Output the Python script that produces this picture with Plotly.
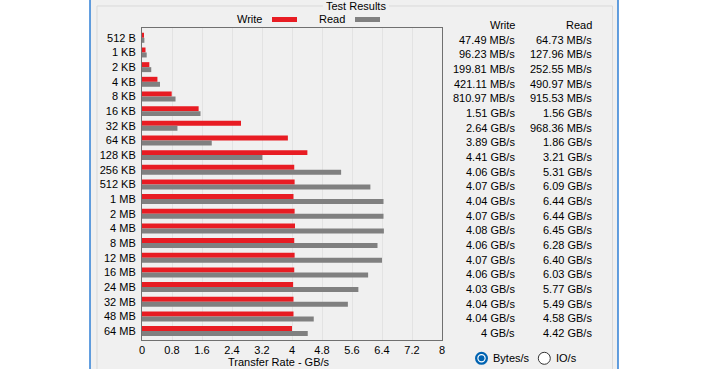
import plotly.graph_objects as go

categories = ["512 B", "1 KB", "2 KB", "4 KB", "8 KB", "16 KB", "32 KB", "64 KB",
              "128 KB", "256 KB", "512 KB", "1 MB", "2 MB", "4 MB", "8 MB", "12 MB",
              "16 MB", "24 MB", "32 MB", "48 MB", "64 MB"]
write_labels = ["47.49 MB/s", "96.23 MB/s", "199.81 MB/s", "421.11 MB/s", "810.97 MB/s",
                "1.51 GB/s", "2.64 GB/s", "3.89 GB/s", "4.41 GB/s", "4.06 GB/s", "4.07 GB/s",
                "4.04 GB/s", "4.07 GB/s", "4.08 GB/s", "4.06 GB/s", "4.07 GB/s", "4.06 GB/s",
                "4.03 GB/s", "4.04 GB/s", "4.04 GB/s", "4 GB/s"]
read_labels = ["64.73 MB/s", "127.96 MB/s", "252.55 MB/s", "490.97 MB/s", "915.53 MB/s",
               "1.56 GB/s", "968.36 MB/s", "1.86 GB/s", "3.21 GB/s", "5.31 GB/s", "6.09 GB/s",
               "6.44 GB/s", "6.44 GB/s", "6.45 GB/s", "6.28 GB/s", "6.40 GB/s", "6.03 GB/s",
               "5.77 GB/s", "5.49 GB/s", "4.58 GB/s", "4.42 GB/s"]
write_gbps = [47.49 / 1024, 96.23 / 1024, 199.81 / 1024, 421.11 / 1024, 810.97 / 1024,
              1.51, 2.64, 3.89, 4.41, 4.06, 4.07, 4.04, 4.07, 4.08, 4.06, 4.07, 4.06,
              4.03, 4.04, 4.04, 4.00]
read_gbps = [64.73 / 1024, 127.96 / 1024, 252.55 / 1024, 490.97 / 1024, 915.53 / 1024,
             1.56, 968.36 / 1024, 1.86, 3.21, 5.31, 6.09, 6.44, 6.44, 6.45, 6.28, 6.40,
             6.03, 5.77, 5.49, 4.58, 4.42]
x_ticks = [0, 0.8, 1.6, 2.4, 3.2, 4, 4.8, 5.6, 6.4, 7.2, 8]
x_tick_text = ["0", "0.8", "1.6", "2.4", "3.2", "4", "4.8", "5.6", "6.4", "7.2", "8"]

W, H = 708, 369
L, T, PW, PH = 142, 28, 300, 312
FONT = "Liberation Sans, Arial, sans-serif"
RED = "#e81c23"
GRAY = "#808080"
PANEL = "#f0f0f0"


def px(x):
    return (x - L) / PW


def py(y):
    return (T + PH - y) / PH


fig = go.Figure()
fig.add_trace(go.Bar(y=categories, x=write_gbps, orientation="h", name="Write",
                     marker=dict(color=RED, line=dict(width=0)), hoverinfo="skip"))
fig.add_trace(go.Bar(y=categories, x=read_gbps, orientation="h", name="Read",
                     marker=dict(color=GRAY, line=dict(width=0)), hoverinfo="skip"))

shapes = []
# gray window panel
shapes.append(dict(type="rect", xref="paper", yref="paper", x0=px(90), x1=px(618),
                   y0=py(-2), y1=py(371), fillcolor=PANEL, line=dict(width=0), layer="below"))
# blue window borders
for bx in (90, 618):
    shapes.append(dict(type="line", xref="paper", yref="paper", x0=px(bx), x1=px(bx),
                       y0=py(-2), y1=py(371), line=dict(color="#2f7fd6", width=1.5)))
# group box lines
gb = "#d9d9d9"
shapes.append(dict(type="line", xref="paper", yref="paper", x0=px(97), x1=px(97),
                   y0=py(6), y1=py(372), line=dict(color=gb, width=1)))
shapes.append(dict(type="line", xref="paper", yref="paper", x0=px(612.5), x1=px(612.5),
                   y0=py(6), y1=py(372), line=dict(color=gb, width=1)))
shapes.append(dict(type="line", xref="paper", yref="paper", x0=px(97), x1=px(323),
                   y0=py(6), y1=py(6), line=dict(color=gb, width=1)))
shapes.append(dict(type="line", xref="paper", yref="paper", x0=px(389), x1=px(612.5),
                   y0=py(6), y1=py(6), line=dict(color=gb, width=1)))
# legend swatches
shapes.append(dict(type="rect", xref="paper", yref="paper", x0=px(272), x1=px(297),
                   y0=py(22), y1=py(17), fillcolor=RED, line=dict(width=0)))
shapes.append(dict(type="rect", xref="paper", yref="paper", x0=px(355), x1=px(380),
                   y0=py(22), y1=py(17), fillcolor=GRAY, line=dict(width=0)))


def circle(cx, cy, r, fill, line_color=None, lw=0):
    return dict(type="circle", xref="paper", yref="paper",
                x0=px(cx - r), x1=px(cx + r), y0=py(cy + r), y1=py(cy - r),
                fillcolor=fill, line=dict(color=line_color or fill, width=lw))


shapes.append(circle(481.5, 358.3, 6.5, "#0063b1"))
shapes.append(circle(481.5, 358.3, 4.2, "white"))
shapes.append(circle(481.5, 358.3, 3.0, "#0063b1"))
shapes.append(circle(544.3, 358.3, 6.0, "white", "#333333", 1))

ann = []


def text(x, y, s, anchor="center", size=11):
    ann.append(dict(xref="paper", yref="paper", x=px(x), y=py(y), text=s, showarrow=False,
                    xanchor=anchor, yanchor="middle", font=dict(family=FONT, size=size, color="black")))


text(356, 6, "Test Results")
text(264, 19, "Write", "right")
text(347, 19, "Read", "right")
text(278.5, 361.5, "Transfer Rate - GB/s")
text(517, 25, "Write", "right")
text(594, 25, "Read", "right")
text(491, 358.3, "Bytes/s", "left")
text(554, 358.3, "IO/s", "left")

for c, wl, rl in zip(categories, write_labels, read_labels):
    for xx, s in ((517, wl), (594, rl)):
        ann.append(dict(xref="paper", yref="y", x=px(xx), y=c, text=s, showarrow=False,
                        xanchor="right", yanchor="middle", yshift=-2,
                        font=dict(family=FONT, size=11, color="black")))

fig.update_layout(
    width=W, height=H,
    margin=dict(l=L, r=W - L - PW, t=T, b=H - T - PH, pad=0),
    paper_bgcolor="white", plot_bgcolor="white",
    barmode="group", bargap=0.32, bargroupgap=0,
    showlegend=False,
    font=dict(family=FONT, size=11, color="black"),
    shapes=shapes, annotations=ann,
    xaxis=dict(range=[0, 8], tickvals=x_ticks, ticktext=x_tick_text, showgrid=True,
               gridcolor="#e3e3e3", gridwidth=1, zeroline=False, showline=True,
               linecolor="#707070", linewidth=1, mirror=True, ticks="", fixedrange=True,
               tickfont=dict(family=FONT, size=11, color="black")),
    yaxis=dict(type="category", categoryorder="array", categoryarray=categories,
               range=[20.61, -0.67], showgrid=False, zeroline=False, showline=True,
               linecolor="#707070", linewidth=1, mirror=True, ticks="", fixedrange=True,
               ticklabelstandoff=3, tickfont=dict(family=FONT, size=11, color="black")),
)

fig.write_html("out.html", config={"displayModeBar": False},
               post_script="document.body.style.margin='0';document.body.style.overflow='hidden';")
